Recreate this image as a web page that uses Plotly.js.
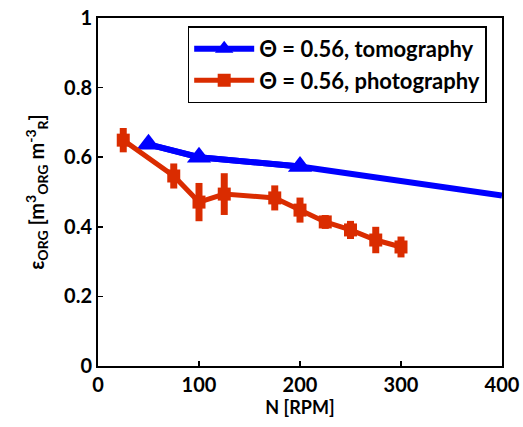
<!DOCTYPE html>
<html><head><meta charset="utf-8">
<script src="https://cdn.plot.ly/plotly-3.0.1.min.js"></script>
<style>html,body{margin:0;padding:0;background:#fff;}#chart{width:523px;height:427px;}</style>
</head><body><div id="chart"></div>
<script>
var tomoN = [50, 100, 200, 400];
var tomoEps = [0.637, 0.600, 0.573, 0.490];
var tomoMarkN = [50, 100, 200];
var tomoMarkEps = [0.637, 0.600, 0.573];
var photoN = [25, 75, 100, 125, 175, 200, 225, 250, 275, 300];
var photoEps = [0.649, 0.546, 0.471, 0.494, 0.483, 0.448, 0.414, 0.391, 0.362, 0.342];
var photoErr = [0.035, 0.036, 0.055, 0.060, 0.036, 0.036, 0.020, 0.026, 0.038, 0.030];
var xTicks = [0, 100, 200, 300, 400];
var xTickText = ['0', '100', '200', '300', '400'];
var yTicks = [0, 0.2, 0.4, 0.6, 0.8, 1];
var yTickText = ['0', '0.2', '0.4', '0.6', '0.8', '1'];

var blue = '#0000ff', red = 'rgb(218,44,0)';
var font = 'Lato, "Open Sans", sans-serif';
function bold(a){ return a.map(function(s){ return '<b>' + s + '</b>'; }); }

var traces = [
  {x: tomoN, y: tomoEps, mode: 'lines', showlegend: false, hoverinfo: 'skip',
   line: {color: blue, width: 6}},
  {x: tomoMarkN, y: tomoMarkEps, mode: 'lines+markers', name: '<b>Θ = 0.56, tomography</b>',
   line: {color: blue, width: 6},
   marker: {symbol: 'triangle-up', size: 21, color: blue}},
  {x: photoN, y: photoEps, mode: 'lines+markers', name: '<b>Θ = 0.56, photography</b>',
   line: {color: red, width: 5},
   marker: {symbol: 'square', size: 13, color: red},
   error_y: {type: 'data', array: photoErr, visible: true, color: red, thickness: 7, width: 0}}
];

var axisCommon = {showgrid: false, zeroline: false, showline: true, linecolor: '#000', linewidth: 2,
  mirror: true, ticks: 'inside', ticklen: 5, tickwidth: 1.5, tickcolor: '#000',
  tickfont: {family: font, size: 20, color: '#000'}};

var layout = {
  width: 523, height: 427,
  margin: {l: 98, r: 21, t: 18, b: 61},
  paper_bgcolor: '#fff', plot_bgcolor: '#fff',
  showlegend: true,
  legend: {x: 0.222, y: 0.976, xanchor: 'left', yanchor: 'top', bgcolor: '#fff',
    bordercolor: '#000', borderwidth: 1.5,
    font: {family: font, size: 22, color: '#000'}, tracegroupgap: 0, itemwidth: 60},
  xaxis: Object.assign({}, axisCommon, {range: [0, 400], tickvals: xTicks, ticktext: bold(xTickText),
    title: {text: '<b>N [RPM]</b>', font: {family: font, size: 18, color: '#000'}, standoff: 2}}),
  yaxis: Object.assign({}, axisCommon, {range: [0, 1], tickvals: yTicks, ticktext: bold(yTickText),
    title: {text: '<b>ε<sub>ORG</sub> [m<sup>3</sup><sub>ORG</sub> m<sup>-3</sup><sub>R</sub>]</b>',
      font: {family: font, size: 20, color: '#000'}, standoff: 14}})
};

Plotly.newPlot('chart', traces, layout, {displayModeBar: false, staticPlot: true});
</script></body></html>
